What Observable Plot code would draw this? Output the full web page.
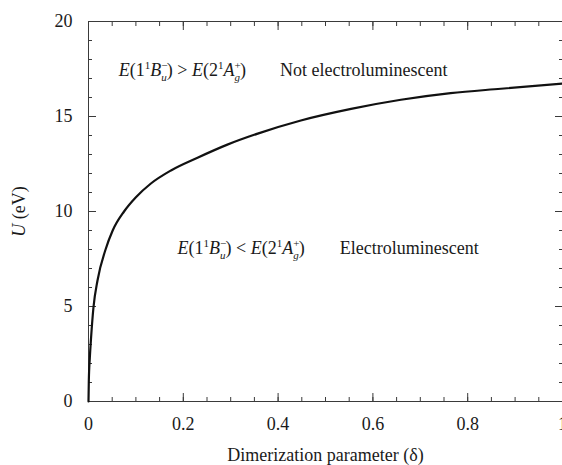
<!DOCTYPE html>
<html>
<head>
<meta charset="utf-8">
<script src="https://cdn.jsdelivr.net/npm/d3@7"></script>
<script src="https://cdn.jsdelivr.net/npm/@observablehq/plot@0.6"></script>
<style>
  html, body { margin: 0; padding: 0; background: #fff; overflow: hidden; }
  #chart svg { display: block; }
  #chart svg, #chart svg text {
    font-family: "Liberation Serif", "Times New Roman", serif !important;
  }
</style>
</head>
<body>
<div id="chart"></div>
<script>
// Boundary between the two orderings of the 1Bu and 2Ag states:
// critical Hubbard U (eV) versus dimerization parameter δ.
const delta = [0, 0.0007, 0.0028, 0.0055, 0.0105, 0.019, 0.036, 0.051, 0.075, 0.1,
               0.131, 0.174, 0.23, 0.293, 0.357, 0.448, 0.554, 0.659, 0.764, 0.870, 1.0];
const uCrit = [0, 1.1, 2.3, 3.38, 4.96, 6.37, 8.0, 9.0, 10.0, 10.75,
               11.46, 12.16, 12.83, 13.52, 14.1, 14.79, 15.4, 15.88, 16.23, 16.46, 16.73];

// Axis ticks and their labels
const xTicks = [0, 0.2, 0.4, 0.6, 0.8, 1];
const xTickLabels = ["0", "0.2", "0.4", "0.6", "0.8", "1"];
const xMinorTicks = [0, 0.05, 0.1, 0.15, 0.2, 0.25, 0.3, 0.35, 0.4, 0.45, 0.5,
                     0.55, 0.6, 0.65, 0.7, 0.75, 0.8, 0.85, 0.9, 0.95, 1];
const yTicks = [0, 5, 10, 15, 20];
const yTickLabels = ["0", "5", "10", "15", "20"];
const yMinorTicks = [0, 1, 2, 3, 4, 5, 6, 7, 8, 9, 10, 11, 12, 13, 14, 15, 16, 17, 18, 19, 20];

// Region annotations: anchor (δ, U) and rich-text parts [text, style]
const regionDelta = [0.064, 0.404, 0.188, 0.530];
const regionU = [17.42, 17.42, 8.05, 8.05];
const regionParts = [
  [["E", "it"], ["(1"], ["1", "sup"], ["B", "it"], ["\u2212", "sup"], ["u", "sub it"], [")"],
   [" > "], ["E", "it"], ["(2"], ["1", "sup"], ["A", "it"], ["+", "sup"], ["g", "sub it"], [")"]],
  [["Not electroluminescent"]],
  [["E", "it"], ["(1"], ["1", "sup"], ["B", "it"], ["\u2212", "sup"], ["u", "sub it"], [")"],
   [" < "], ["E", "it"], ["(2"], ["1", "sup"], ["A", "it"], ["+", "sup"], ["g", "sub it"], [")"]],
  [["Electroluminescent"]]
];
const xLabel = "Dimerization parameter (\u03b4)";
const yLabelParts = [["U", "it"], [" (eV)"]];

const curve = delta.map((d, i) => ({delta: d, U: uCrit[i]}));
const regions = regionDelta.map((d, i) => ({
  delta: d, U: regionU[i], text: regionParts[i].map(p => p[0]).join("")
}));

const ink = "#3a3a3a";

const plot = Plot.plot({
  width: 562,
  height: 465,
  marginLeft: 88,
  marginRight: 0,
  marginTop: 21,
  marginBottom: 64,
  style: {fontSize: "18px", color: "#1a1a1a", background: "#fff"},
  x: {domain: [0, 1]},
  y: {domain: [0, 20]},
  marks: [
    Plot.frame({stroke: ink, strokeWidth: 1}),
    // inward minor ticks on all four sides
    Plot.axisX(xMinorTicks, {anchor: "bottom", tickSize: 4, dy: -4, fill: "none", label: null, stroke: ink}),
    Plot.axisX(xMinorTicks, {anchor: "top", tickSize: 4, dy: 4, fill: "none", label: null, stroke: ink}),
    Plot.axisY(yMinorTicks, {anchor: "left", tickSize: 4, dx: 4, fill: "none", label: null, stroke: ink}),
    Plot.axisY(yMinorTicks, {anchor: "right", tickSize: 4, dx: -4, fill: "none", label: null, stroke: ink}),
    // inward major ticks
    Plot.axisX(xTicks, {anchor: "bottom", tickSize: 8, dy: -8, fill: "none", label: null, stroke: ink}),
    Plot.axisX(xTicks, {anchor: "top", tickSize: 8, dy: 8, fill: "none", label: null, stroke: ink}),
    Plot.axisY(yTicks, {anchor: "left", tickSize: 8, dx: 8, fill: "none", label: null, stroke: ink}),
    Plot.axisY(yTicks, {anchor: "right", tickSize: 8, dx: -8, fill: "none", label: null, stroke: ink}),
    // tick labels and axis titles
    Plot.axisX(xTicks, {
      anchor: "bottom", tickSize: 0, tickPadding: 16, fontSize: 18,
      tickFormat: (d, i) => xTickLabels[i],
      label: xLabel, labelAnchor: "center", labelArrow: "none", labelOffset: 59
    }),
    Plot.axisY(yTicks, {
      anchor: "left", tickSize: 0, tickPadding: 16, fontSize: 18,
      tickFormat: (d, i) => yTickLabels[i],
      label: "U (eV)", labelAnchor: "center", labelArrow: "none", labelOffset: 76
    }),
    // the boundary curve
    Plot.line(curve, {x: "delta", y: "U", stroke: "#111", strokeWidth: 2.2, curve: "monotone-x"}),
    // region annotations
    Plot.text(regions, {x: "delta", y: "U", text: "text", textAnchor: "start", fill: "#1a1a1a", fontSize: 18})
  ]
});

document.getElementById("chart").appendChild(plot);

// Rebuild a text element as tspans with italics and stacked super/subscripts
function buildRich(textEl, parts) {
  const sel = d3.select(textEl);
  sel.text(null).style("white-space", "pre");
  let base = 0;
  let lastSup = null;
  for (const [t, style = ""] of parts) {
    const flags = style.split(" ");
    const sup = flags.includes("sup"), sub = flags.includes("sub");
    const target = sup ? -7 : sub ? 5 : 0;
    const ts = sel.append("tspan").text(t);
    if (target !== base) ts.attr("dy", target - base);
    base = target;
    if (sup || sub) ts.attr("font-size", 11);
    if (flags.includes("it")) ts.attr("font-style", "italic");
    if (sub && lastSup) ts.attr("dx", -lastSup.node().getComputedTextLength());
    lastSup = sup ? ts : null;
  }
}

const svg = d3.select(plot);
svg.selectAll("g[aria-label='text'] text").each(function () {
  const i = regions.findIndex(r => r.text === this.textContent);
  if (i >= 0) buildRich(this, regionParts[i]);
});
svg.selectAll("g[aria-label='y-axis label'] text").each(function () {
  buildRich(this, yLabelParts);
});
</script>
</body>
</html>
